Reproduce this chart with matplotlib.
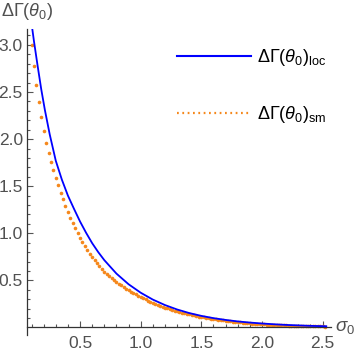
import numpy as np
import matplotlib
matplotlib.use("Agg")
import matplotlib.pyplot as plt
from matplotlib.lines import Line2D

plt.rcParams['font.family'] = ['Liberation Sans', 'DejaVu Sans']
plt.rcParams['mathtext.fontset'] = 'custom'
plt.rcParams['mathtext.rm'] = 'Liberation Sans'
plt.rcParams['mathtext.it'] = 'Liberation Sans:italic'

# local curve (solid blue)
sigma_loc = [0.06, 0.08, 0.10, 0.12, 0.15, 0.18, 0.21, 0.25, 0.30, 0.35, 0.40, 0.45,
             0.50, 0.55, 0.60, 0.65, 0.70, 0.80, 0.90, 1.00, 1.10, 1.20, 1.30, 1.40,
             1.50, 1.60, 1.70, 1.80, 1.90, 2.00, 2.10, 2.20, 2.30, 2.40, 2.53]
gamma_loc = [3.65, 3.43, 3.23, 3.04, 2.78, 2.53, 2.31, 2.05, 1.77, 1.57, 1.40, 1.26,
             1.125, 1.005, 0.895, 0.80, 0.715, 0.572, 0.459, 0.369, 0.296, 0.238, 0.191, 0.153,
             0.123, 0.099, 0.080, 0.064, 0.052, 0.042, 0.034, 0.027, 0.022, 0.017, 0.013]

# smeared values (orange points), sampled every 0.02
sigma_sm = np.round(np.arange(0.10, 2.521, 0.02), 2)
gamma_sm = [3.00, 2.78, 2.57, 2.39, 2.23, 2.09, 1.96, 1.85, 1.76, 1.67,
            1.59, 1.51, 1.43, 1.36, 1.29, 1.225, 1.165, 1.11, 1.055, 1.005,
            0.955, 0.909, 0.866, 0.824, 0.785, 0.747, 0.713, 0.681, 0.651, 0.621,
            0.593, 0.567, 0.545, 0.523, 0.503, 0.483, 0.464, 0.446, 0.428, 0.412,
            0.395, 0.380, 0.365, 0.351, 0.337, 0.324, 0.311, 0.298, 0.286, 0.274,
            0.262, 0.251, 0.241, 0.230, 0.221, 0.211, 0.202, 0.194, 0.186, 0.178,
            0.171, 0.164, 0.157, 0.150, 0.144, 0.138, 0.132, 0.127, 0.121, 0.116,
            0.111, 0.107, 0.102, 0.098, 0.094, 0.090, 0.0858, 0.0818, 0.0779, 0.0743,
            0.0708, 0.0675, 0.0643, 0.0613, 0.0584, 0.0556, 0.0530, 0.0505, 0.0482, 0.0459,
            0.0437, 0.0417, 0.0397, 0.0379, 0.0361, 0.0344, 0.0328, 0.0312, 0.0298, 0.0284,
            0.0270, 0.0258, 0.0245, 0.0234, 0.0223, 0.0212, 0.0202, 0.0193, 0.0184, 0.0175,
            0.0167, 0.0159, 0.0152, 0.0144, 0.0138, 0.0131, 0.0125, 0.0119, 0.0114, 0.0108,
            0.0103, 0.0098]

blue = '#0000ff'
orange = '#f5881c'
grey = '#505050'

fig = plt.figure(figsize=(3.6, 3.51), dpi=100)
ax = fig.add_axes([0.075, 0.0456, 0.8444, 0.8718])

ax.plot(sigma_sm, gamma_sm, 'o', color=orange, ms=2.6, mew=0, zorder=2)
ax.plot(sigma_loc, gamma_loc, '-', color=blue, lw=1.3, zorder=3)

ax.set_xlim(0.0627, 2.569)
ax.set_ylim(-0.08, 3.169)

for s in ['top', 'right']:
    ax.spines[s].set_visible(False)
ax.spines['bottom'].set_position(('data', 0))
for s in ['left', 'bottom']:
    ax.spines[s].set_color('#333333')
    ax.spines[s].set_linewidth(0.9)

ax.set_xticks([0.5, 1.0, 1.5, 2.0, 2.5])
ax.set_xticks(np.round(np.arange(0.1, 2.55, 0.1), 1), minor=True)
ax.set_yticks([0.5, 1.0, 1.5, 2.0, 2.5, 3.0])
ax.set_yticks(np.round(np.arange(0.1, 3.15, 0.1), 1), minor=True)
ax.tick_params(which='both', direction='in', color='#555555', width=0.8,
               labelsize=12.5, labelcolor=grey)
ax.tick_params(which='major', length=4.5)
ax.tick_params(which='minor', length=2.5)
ax.tick_params(axis='x', pad=6)
ax.tick_params(axis='y', pad=3)

ax.text(1.012, 0, r'$\sigma_0$', transform=ax.get_yaxis_transform(),
        ha='left', va='center', fontsize=13.5, color=grey)
ax.text(0.0, 1.022, r'$\Delta\Gamma(\theta_0)$', transform=ax.transAxes,
        ha='center', va='bottom', fontsize=13, color=grey)

handles = [Line2D([], [], color=blue, lw=1.5),
           Line2D([], [], color=orange, lw=1.6, ls=(0, (0.8, 1.6)))]
labels = [r'$\Delta\Gamma(\theta_0)_{\mathrm{loc}}$', r'$\Delta\Gamma(\theta_0)_{\mathrm{sm}}$']
ax.legend(handles, labels, loc='upper left', bbox_to_anchor=(177 / 360, 1 - 47 / 351),
          bbox_transform=fig.transFigure, frameon=False, fontsize=13,
          handlelength=4.1, handletextpad=0.33, labelspacing=2.0,
          borderpad=0, borderaxespad=0)

fig.savefig('out.png', dpi=100)
